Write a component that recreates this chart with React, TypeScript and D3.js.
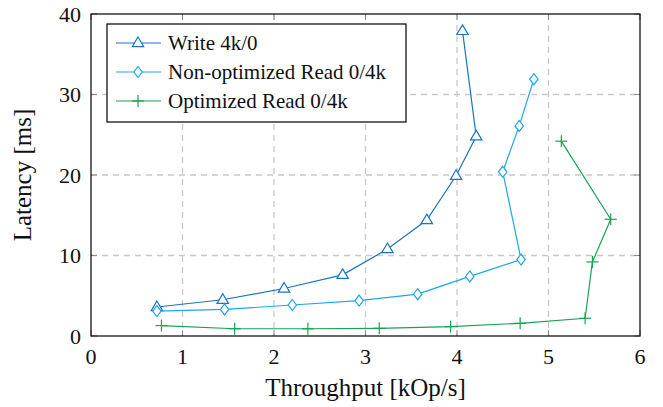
import React from "react";
import * as d3 from "d3";

// throughput [kOp/s], latency [ms]
const writeX = [0.72, 1.44, 2.11, 2.75, 3.24, 3.67, 3.99, 4.21, 4.06];
const writeY = [3.6, 4.5, 5.9, 7.6, 10.8, 14.4, 19.9, 24.8, 37.9];
const nonOptX = [0.72, 1.46, 2.2, 2.93, 3.57, 4.14, 4.7, 4.5, 4.68, 4.84];
const nonOptY = [3.1, 3.3, 3.85, 4.4, 5.2, 7.4, 9.5, 20.4, 26.1, 31.9];
const optX = [0.77, 1.57, 2.37, 3.15, 3.93, 4.69, 5.4, 5.48, 5.68, 5.14];
const optY = [1.3, 0.9, 0.9, 0.95, 1.16, 1.58, 2.2, 9.2, 14.5, 24.2];

const seriesNames = ["Write 4k/0", "Non-optimized Read 0/4k", "Optimized Read 0/4k"];
const xTicks = [0, 1, 2, 3, 4, 5, 6];
const yTicks = [0, 10, 20, 30, 40];

const W = 663;
const H = 407;
const left = 91, right = 640, top = 14, bottom = 336;
const font = "Liberation Serif, serif";

const colors = ["#1a74c4", "#1ea6ea", "#17a350"];

function Marker({ kind, x, y, color }: { kind: string; x: number; y: number; color: string }) {
  if (kind === "triangle") {
    const r = 6;
    const p = d3.path();
    p.moveTo(x, y - r);
    p.lineTo(x + r * 0.95, y + r * 0.6);
    p.lineTo(x - r * 0.95, y + r * 0.6);
    p.closePath();
    return <path d={p.toString()} fill="white" stroke={color} strokeWidth={1.2} />;
  }
  if (kind === "diamond") {
    const p = d3.path();
    p.moveTo(x, y - 5.5);
    p.lineTo(x + 4.2, y);
    p.lineTo(x, y + 5.5);
    p.lineTo(x - 4.2, y);
    p.closePath();
    return <path d={p.toString()} fill="white" stroke={color} strokeWidth={1.2} />;
  }
  return (
    <g stroke={color} strokeWidth={1.2}>
      <line x1={x - 6} x2={x + 6} y1={y} y2={y} />
      <line x1={x} x2={x} y1={y - 6} y2={y + 6} />
    </g>
  );
}

export default function App() {
  const x = d3.scaleLinear().domain([0, 6]).range([left, right]);
  const y = d3.scaleLinear().domain([0, 40]).range([bottom, top]);

  const series = [
    { name: seriesNames[0], xs: writeX, ys: writeY, kind: "triangle", color: colors[0] },
    { name: seriesNames[1], xs: nonOptX, ys: nonOptY, kind: "diamond", color: colors[1] },
    { name: seriesNames[2], xs: optX, ys: optY, kind: "plus", color: colors[2] },
  ];

  const line = d3
    .line<[number, number]>()
    .x((d) => x(d[0]))
    .y((d) => y(d[1]));

  const txt = { fontFamily: font, fill: "#111" };

  return (
    <svg
      width={W}
      height={H}
      style={{ position: "absolute", left: 0, top: 0, background: "white" }}
    >
      {/* grid */}
      {xTicks.slice(1, -1).map((t) => (
        <line key={"gx" + t} x1={x(t)} x2={x(t)} y1={top} y2={bottom} stroke="#c8c8c8" strokeWidth={1.3} strokeDasharray="6,5" />
      ))}
      {yTicks.slice(1, -1).map((t) => (
        <line key={"gy" + t} x1={left} x2={right} y1={y(t)} y2={y(t)} stroke="#c8c8c8" strokeWidth={1.3} strokeDasharray="6,5" />
      ))}
      {/* ticks inside */}
      {xTicks.map((t) => (
        <g key={"tx" + t} stroke="#8a8a8a" strokeWidth={1}>
          <line x1={x(t)} x2={x(t)} y1={bottom} y2={bottom - 6} />
          <line x1={x(t)} x2={x(t)} y1={top} y2={top + 6} />
        </g>
      ))}
      {yTicks.map((t) => (
        <g key={"ty" + t} stroke="#8a8a8a" strokeWidth={1}>
          <line x1={left} x2={left + 6} y1={y(t)} y2={y(t)} />
          <line x1={right} x2={right - 6} y1={y(t)} y2={y(t)} />
        </g>
      ))}

      {/* series */}
      {series.map((s) => {
        const pts = s.xs.map((v, i) => [v, s.ys[i]] as [number, number]);
        return (
          <g key={s.name}>
            <path d={line(pts) || ""} fill="none" stroke={s.color} strokeWidth={1.2} />
            {pts.map((p, i) => (
              <Marker key={i} kind={s.kind} x={x(p[0])} y={y(p[1])} color={s.color} />
            ))}
          </g>
        );
      })}

      {/* frame */}
      <rect x={left} y={top} width={right - left} height={bottom - top} fill="none" stroke="black" strokeWidth={1.2} />

      {/* tick labels */}
      {xTicks.map((t) => (
        <text key={"lx" + t} x={x(t)} y={364} textAnchor="middle" fontSize={22} style={txt}>
          {t}
        </text>
      ))}
      {yTicks.map((t) => (
        <text key={"ly" + t} x={81} y={y(t)} dy="0.35em" textAnchor="end" fontSize={22} style={txt}>
          {t}
        </text>
      ))}

      {/* axis labels */}
      <text x={(left + right) / 2} y={396} textAnchor="middle" fontSize={25} style={txt}>
        Throughput [kOp/s]
      </text>
      <text transform={`translate(31,${(top + bottom) / 2}) rotate(-90)`} textAnchor="middle" fontSize={25} style={txt}>
        Latency [ms]
      </text>

      {/* legend */}
      <rect x={107} y={24} width={299} height={98} fill="white" stroke="black" strokeWidth={1.2} />
      {series.map((s, i) => {
        const ly = 43 + i * 29;
        return (
          <g key={"lg" + i}>
            <line x1={116} x2={161} y1={ly} y2={ly} stroke={s.color} strokeWidth={1.2} />
            <Marker kind={s.kind} x={138} y={ly} color={s.color} />
            <text x={168} y={ly} dy="0.35em" fontSize={21} style={txt}>
              {s.name}
            </text>
          </g>
        );
      })}
    </svg>
  );
}
